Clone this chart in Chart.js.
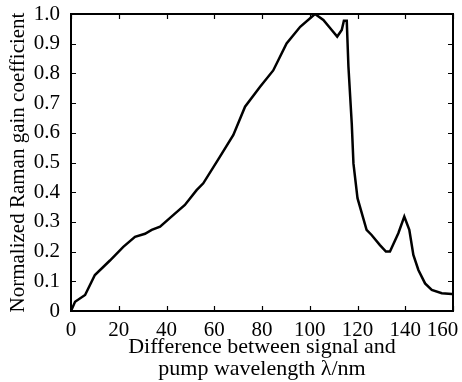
<!DOCTYPE html>
<html>
<head>
<meta charset="utf-8">
<script src="https://cdn.jsdelivr.net/npm/chart.js@4.4.0/dist/chart.umd.min.js"></script>
<style>
  html, body { margin: 0; padding: 0; background: #fff; }
  #wrap { width: 462px; height: 382px; }
</style>
</head>
<body>
<div id="wrap"><canvas id="myChart" width="462" height="382"></canvas></div>
<script>
// wavelength difference (nm) and normalized gain
const difference = [0, 1.7, 5.9, 10, 16.3, 21.9, 26.8, 31, 33.8, 37.3, 42.8, 47.7, 52.6, 55.4, 62.4, 68, 72.9, 79.2, 84.7, 90.3, 96, 102.2, 105.7, 109.2, 111.5, 113.4, 114.3, 115.5, 116.2, 117.6, 118.3, 120, 123.8, 125.9, 129.4, 131.9, 133.6, 137.1, 139.6, 141.7, 143.4, 145.5, 148.3, 151.1, 155.3, 159.5, 160];
const gain = [0, 0.031, 0.054, 0.121, 0.17, 0.216, 0.25, 0.26, 0.273, 0.284, 0.323, 0.357, 0.407, 0.43, 0.52, 0.593, 0.688, 0.755, 0.81, 0.901, 0.957, 1.0, 0.98, 0.946, 0.924, 0.946, 0.977, 0.977, 0.823, 0.63, 0.497, 0.38, 0.273, 0.256, 0.222, 0.2, 0.2, 0.262, 0.318, 0.273, 0.189, 0.138, 0.093, 0.071, 0.06, 0.057, 0.057];
const xTicks = [0, 20, 40, 60, 80, 100, 120, 140, 160];
const yTicks = [0, 0.1, 0.2, 0.3, 0.4, 0.5, 0.6, 0.7, 0.8, 0.9, 1.0];

const serif = 'Liberation Serif, Times New Roman, serif';

// frame on four sides with inward tick marks
const framePlugin = {
  id: 'frame',
  afterDraw(chart) {
    const c = chart.ctx, a = chart.chartArea;
    const sx = chart.scales.x, sy = chart.scales.y;
    c.save();
    c.strokeStyle = '#000';
    c.lineWidth = 2;
    c.strokeRect(a.left, a.top, a.right - a.left, a.bottom - a.top);
    c.lineWidth = 1.2;
    c.beginPath();
    xTicks.forEach(v => {
      const px = Math.round(sx.getPixelForValue(v)) + 0.5;
      c.moveTo(px, a.bottom); c.lineTo(px, a.bottom - 5);
      c.moveTo(px, a.top); c.lineTo(px, a.top + 5);
    });
    yTicks.forEach(v => {
      const py = Math.round(sy.getPixelForValue(v)) + 0.5;
      c.moveTo(a.left, py); c.lineTo(a.left + 5, py);
      c.moveTo(a.right, py); c.lineTo(a.right - 5, py);
    });
    c.stroke();
    c.restore();
  }
};

const ctx = document.getElementById('myChart');

new Chart(ctx, {
  type: 'scatter',
  data: {
    datasets: [{
      data: difference.map((d, i) => ({ x: d, y: gain[i] })),
      showLine: true,
      borderColor: '#000',
      borderWidth: 2.5,
      pointRadius: 0,
      tension: 0
    }]
  },
  options: {
    responsive: false,
    animation: false,
    layout: { padding: { top: 14, right: 9, left: 0, bottom: 0 } },
    plugins: { legend: { display: false }, tooltip: { enabled: false } },
    scales: {
      x: {
        type: 'linear',
        min: 0,
        max: 160,
        afterBuildTicks: s => { s.ticks = xTicks.map(v => ({ value: v })); },
        afterFit: s => { s.height = 71; s.paddingLeft = 0; s.paddingRight = 0; },
        grid: { display: false },
        border: { display: false },
        ticks: {
          color: '#000',
          font: { family: serif, size: 21 },
          padding: -1,
          maxRotation: 0,
          autoSkip: false,
          callback: v => v === 160 ? '160\u2003' : String(v)
        },
        title: {
          display: true,
          text: ['Difference between signal and', 'pump wavelength \u03BB/nm'],
          color: '#000',
          font: { family: serif, size: 22, lineHeight: 1.0 },
          padding: { top: 0, bottom: 2 }
        }
      },
      y: {
        min: 0,
        max: 1,
        afterBuildTicks: s => { s.ticks = yTicks.map(v => ({ value: v })); },
        afterFit: s => { s.width = 71; s.paddingTop = 0; s.paddingBottom = 0; },
        grid: { display: false },
        border: { display: false },
        ticks: {
          color: '#000',
          font: { family: serif, size: 21 },
          padding: 3,
          autoSkip: false,
          callback: v => v === 0 ? '0' : v.toFixed(1)
        },
        title: {
          display: true,
          text: 'Normalized Raman gain coefficient',
          color: '#000',
          font: { family: serif, size: 21 },
          padding: { top: 6, bottom: 0 }
        }
      }
    }
  },
  plugins: [framePlugin]
});
</script>
</body>
</html>
